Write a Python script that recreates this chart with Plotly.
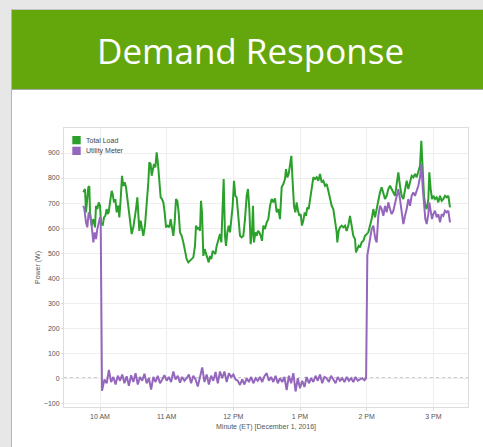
import pandas as pd
import plotly.graph_objects as go

# minutes after 10:00 AM on December 1, 2016
load_minutes = [
    -15, -13.5, -12.6, -11.4, -10.5, -9.6, -9, -7.5, -6, -4.5, -3.6, -2.4, -1.2, 0, 0.9, 2.4, 3.6, 4.8,
    6, 6.9, 7.8, 9, 10.5, 11.4, 12.6, 13.8, 15, 16.5, 17.4, 18.6, 19.8, 21, 22.2, 23.4, 24.6, 25.8, 27,
    28.5, 30, 31.2, 32.4, 33.6, 34.5, 35.4, 36.6, 37.8, 39, 40.5, 42, 43.5, 44.4, 45.6, 46.5, 47.4, 48.6,
    49.8, 51, 52.2, 53.4, 54.6, 55.8, 57, 58.2, 59.4, 60.9, 62.4, 63.6, 64.8, 66, 67.2, 68.4, 69.6, 70.8,
    72, 73.5, 75, 76.5, 78, 79.5, 81, 82.5, 84, 85.5, 86.4, 87.6, 88.8, 90, 90.9, 91.8, 93, 94.2, 95.4,
    96.6, 97.8, 99, 100.2, 101.4, 102.6, 103.8, 105, 106.5, 108, 109.2, 110.4, 111.3, 112.5, 113.4, 114.6,
    115.8, 117, 118.2, 119.4, 120.6, 121.8, 123, 124.5, 126, 127.5, 129, 130.5, 132, 133.2, 134.4, 135.6,
    136.8, 137.7, 138.6, 139.8, 141, 142.2, 143.4, 144.6, 145.8, 147, 148.5, 150, 151.5, 153, 154.5, 156,
    157.5, 159, 160.5, 162, 163.5, 165, 166.5, 167.4, 168.6, 169.8, 171, 172.2, 173.4, 174.6, 175.8, 177,
    178.2, 179.4, 180.6, 181.8, 183, 184.2, 185.4, 186.6, 187.8, 189, 190.5, 192, 193.5, 195, 196.5, 198,
    199.5, 201, 202.5, 204, 205.5, 207, 208.5, 210, 211.5, 213, 213.6, 214.8, 216, 217.5, 219, 220.5, 222,
    223.5, 225, 226.5, 228, 229.5, 230.4, 231.6, 232.8, 234, 235.5, 237, 238.5, 240, 241.5, 243, 244.5,
    246, 247.5, 249, 250.5, 252, 253.5, 255, 256.5, 258, 259.5, 261, 262.5, 264, 265.5, 267, 268.5, 270,
    271.5, 273, 274.5, 276, 277.5, 279, 280.5, 282, 283.5, 285, 286.5, 288, 289.2, 290.4, 291.6, 292.8,
    294, 295.5, 296.4, 297.6, 298.8, 300, 301.5, 303, 304.5, 306, 307.5, 309, 310.5, 312, 313.5, 315,
]
load_watts = [
    743, 756, 663, 716, 763, 767, 663, 610, 636, 603, 689, 676, 703, 690, 623, 610, 643, 649,
    676, 656, 663, 703, 749, 736, 703, 716, 663, 690, 643, 716, 809, 769, 783, 763, 716, 676, 636,
    576, 603, 636, 676, 723, 649, 589, 630, 603, 569, 610, 690, 783, 863, 856, 809, 829, 856,
    843, 903, 856, 796, 723, 716, 703, 663, 603, 610, 603, 636, 603, 569, 623, 716, 709, 663,
    583, 569, 543, 503, 476, 463, 469, 479, 483, 529, 610, 596, 603, 589, 709, 663, 489, 516, 496,
    476, 463, 489, 476, 509, 503, 496, 529, 556, 576, 543, 716, 796, 569, 529, 583,
    610, 583, 636, 689, 789, 729, 723, 636, 569, 563, 569, 636, 729, 756, 676, 536,
    583, 689, 543, 583, 569, 589, 583, 569, 549, 610, 596, 623, 636, 689, 716, 703,
    719, 663, 676, 636, 763, 776, 796, 836, 803, 816, 849, 889, 783, 689, 663, 703,
    669, 649, 656, 610, 630, 663, 649, 683, 676, 716, 756, 803, 796, 803, 789, 816,
    783, 789, 769, 776, 749, 716, 689, 676, 636, 583, 543, 589, 603, 610, 603, 610, 589,
    610, 649, 616, 569, 556, 503, 516, 529, 523, 543, 549, 569, 576, 583, 610, 636,
    676, 643, 676, 716, 743, 763, 736, 716, 729, 756, 769, 756, 743, 729, 776, 823, 769,
    729, 716, 763, 789, 756, 783, 809, 803, 816, 803, 829, 849, 949, 849, 729, 689,
    676, 716, 823, 756, 716, 729, 716, 723, 703, 729, 709, 716, 729, 723, 729, 683,
]

# utility meter before the event, during curtailment and after 2 PM
meter_before_minutes = [-15, -14.1, -12.6, -11.4, -10.2, -9, -7.5, -6, -4.8, -3.6, -2.4, -1.2, 0, 0.6]
meter_before_watts = [689, 676, 623, 603, 663, 649, 610, 543, 583, 556, 596, 623, 643, 640]

meter_event_minutes = [
    1.8, 4, 6, 8, 10, 12, 14, 16, 18, 20, 22, 24, 26, 28, 30, 32, 34, 36, 38, 40, 42, 44, 46, 48, 50,
    52, 54, 56, 58, 60, 62, 64, 66, 68, 70, 72, 74, 76, 78, 80, 82, 84, 86, 88, 90, 92, 94, 96, 98, 100,
    102, 104, 106, 108, 110, 112, 114, 116, 118, 120, 122, 124, 126, 128, 130, 132, 134, 136, 138, 140,
    142, 144, 146, 148, 150, 152, 154, 156, 158, 160, 162, 164, 166, 168, 170, 172, 174, 176, 178, 180,
    182, 184, 186, 188, 190, 192, 194, 196, 198, 200, 202, 204, 206, 208, 210, 212, 214, 216, 218, 220,
    222, 224, 226, 228, 230, 232, 234, 236, 238, 239.5,
]
meter_event_watts = [
    -50, -5, -20, 33, -15, 5, -25, 10, -10, 15, -20, 8, -30, 12, -15, 20, -25, 5, -10, 18, -20, 0, -45, 5, -15,
    10, -20, -5, 12, -10, 5, -15, 27, -5, 10, -18, 5, -10, 0, 15, -20, 10, -5, -33, 8, 43, -15, 15, -25, 10,
    -10, 25, -20, 27, 0, 27, -15, 20, 5, 15, -5, -10, -27, -5, -25, 0, -15, 5, -20, 0,
    -10, 5, -15, 8, 20, -10, 5, -15, 10, -20, 0, -15, 5, -47, 10, -20, 20, -53, 0, -40,
    -10, -35, 5, -20, 0, -15, 10, -10, 15, -20, 5, 0, -15, 10, -5, -20, 5, -10, 0, -15,
    5, -10, 0, -15, 5, -10, -5, 0, -8, 0,
]

meter_after_minutes = [
    240.6, 242.4, 244.5, 246, 247.8, 249, 250.5, 252, 253.5, 255, 256.5, 258, 259.5, 261, 262.5, 264,
    265.5, 267, 268.5, 270, 271.5, 273, 274.5, 276, 277.5, 279, 280.5, 282, 283.5, 285, 286.5, 288,
    289.2, 290.4, 291.6, 292.8, 294, 295.5, 296.4, 297.6, 298.8, 300, 301.5, 303, 304.5, 306, 307.5,
    309, 310.5, 312, 313.5, 315,
]
meter_after_watts = [
    490, 543, 596, 610, 556, 543, 649, 689, 676, 649, 689, 663, 703, 676, 656, 669,
    696, 729, 756, 716, 663, 616, 649, 676, 716, 689, 729, 743, 729, 749, 769, 803,
    856, 763, 689, 636, 616, 656, 703, 676, 636, 656, 669, 643, 656, 623, 656,
    649, 669, 663, 669, 623,
]

tick_hours = [10, 11, 12, 13, 14, 15]
tick_labels = ["10 AM", "11 AM", "12 PM", "1 PM", "2 PM", "3 PM"]
y_ticks = [-100, 0, 100, 200, 300, 400, 500, 600, 700, 800, 900]

GREEN = "#2ca02c"
PURPLE = "#9467bd"
HEADER = "#64a70c"
FONT = "Liberation Sans, Arial, sans-serif"

day = pd.Timestamp("2016-12-01")
start = day + pd.Timedelta(hours=10)


def to_time(minutes):
    return start + pd.to_timedelta(minutes, unit="min")


meter_minutes = meter_before_minutes + meter_event_minutes + meter_after_minutes
meter_watts = meter_before_watts + meter_event_watts + meter_after_watts

# plot area in pixels, used to place the slide decoration
L, R, T, B = 64, 468, 128, 407


def px(x):
    return (x - L) / (R - L)


def py(y):
    return (B - y) / (B - T)


fig = go.Figure()
fig.add_trace(go.Scatter(x=to_time(load_minutes), y=load_watts, mode="lines", name="Total Load",
                         line=dict(color=GREEN, width=2)))
fig.add_trace(go.Scatter(x=to_time(meter_minutes), y=meter_watts, mode="lines", name="Utility Meter",
                         line=dict(color=PURPLE, width=2)))

shapes = [
    # slide body and header
    dict(type="rect", xref="paper", yref="paper", x0=px(12), x1=px(484), y0=py(90), y1=py(448),
         fillcolor="white", line_width=0, layer="below"),
    dict(type="rect", xref="paper", yref="paper", x0=px(12), x1=px(484), y0=py(10), y1=py(89),
         fillcolor=HEADER, line_width=0, layer="below"),
    dict(type="line", xref="paper", yref="paper", x0=px(12), x1=px(484), y0=py(89.5), y1=py(89.5),
         line=dict(color="#a8a8a8", width=1), layer="below"),
    dict(type="line", xref="paper", yref="paper", x0=px(11.5), x1=px(11.5), y0=py(9), y1=py(448),
         line=dict(color="#b4b4bc", width=1), layer="below"),
    dict(type="line", xref="paper", yref="paper", x0=px(11.5), x1=px(484), y0=py(9.5), y1=py(9.5),
         line=dict(color="#c4c4c4", width=1), layer="below"),
    # dotted zero line
    dict(type="line", xref="paper", yref="y", x0=0, x1=1, y0=0, y1=0,
         line=dict(color="#444444", width=1, dash="dot"), layer="below"),
    # legend swatches
    dict(type="rect", xref="paper", yref="paper", x0=px(72.3), x1=px(80.7), y0=py(136), y1=py(144.3),
         fillcolor=GREEN, line_width=0),
    dict(type="rect", xref="paper", yref="paper", x0=px(72.3), x1=px(80.7), y0=py(146.7), y1=py(155),
         fillcolor=PURPLE, line_width=0),
]

annotations = [
    dict(text="Demand Response", xref="paper", yref="paper", x=px(250), y=py(51), showarrow=False,
         xanchor="center", yanchor="middle", font=dict(family="Open Sans", size=35, color="white")),
    dict(text="Total Load", xref="paper", yref="paper", x=px(84), y=py(140.2), showarrow=False,
         xanchor="left", yanchor="middle", font=dict(family=FONT, size=7, color="#444444")),
    dict(text="Utility Meter", xref="paper", yref="paper", x=px(84), y=py(151), showarrow=False,
         xanchor="left", yanchor="middle", font=dict(family=FONT, size=7, color="#444444")),
]

fig.update_layout(
    width=483, height=447,
    margin=dict(l=L, r=483 - R, t=T, b=447 - B, pad=0),
    paper_bgcolor="#e7e7e7", plot_bgcolor="white",
    showlegend=False,
    shapes=shapes, annotations=annotations,
    font=dict(family=FONT, size=7, color="#555555"),
)
fig.update_xaxes(
    type="date",
    range=[to_time(-32.4), to_time(331.2)],
    tickvals=[day + pd.Timedelta(hours=h) for h in tick_hours], ticktext=tick_labels,
    showgrid=True, gridcolor="#eeeeee", gridwidth=1,
    showline=True, mirror=True, linecolor="#dddddd", linewidth=1,
    ticks="outside", ticklen=3, tickcolor="#dddddd",
    tickfont=dict(size=7, color="#555555"),
    title=dict(text="Minute (ET) [December 1, 2016]", font=dict(size=7, color="#555555"), standoff=4),
)
fig.update_yaxes(
    range=[-115, 1000],
    tickvals=y_ticks,
    showgrid=True, gridcolor="#eeeeee", gridwidth=1, zeroline=False,
    showline=True, mirror=True, linecolor="#dddddd", linewidth=1,
    ticks="outside", ticklen=2, tickcolor="#dddddd",
    tickfont=dict(size=7, color="#555555"),
    title=dict(text="Power (W)", font=dict(size=7, color="#555555"), standoff=2),
)

# the page body keeps a default margin; drop it so the slide fills the window
fig.write_html("out.html", config={"displayModeBar": False},
               post_script="document.body.style.margin = '0';")
